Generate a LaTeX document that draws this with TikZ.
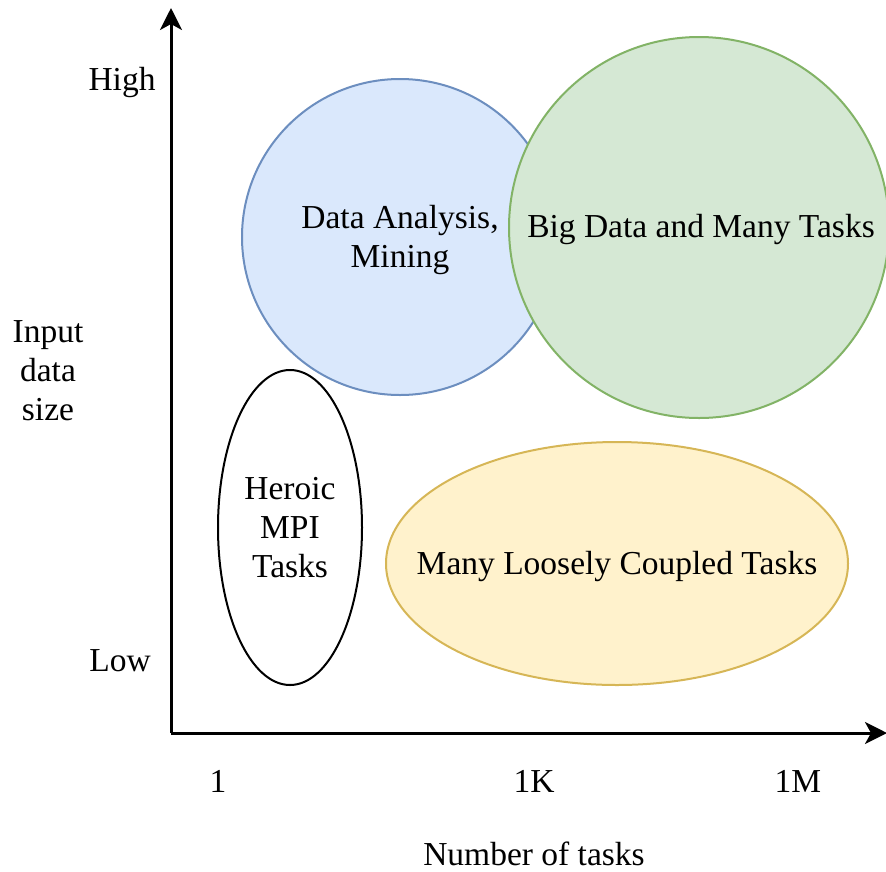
\documentclass[tikz,border=0pt]{standalone}
\usepackage{fontspec}
\setmainfont{Liberation Serif}
\usetikzlibrary{arrows.meta,shapes.geometric}
\definecolor{blueFill}{HTML}{DAE8FC}
\definecolor{blueLine}{HTML}{6C8EBF}
\definecolor{greenFill}{HTML}{D5E8D4}
\definecolor{greenLine}{HTML}{82B366}
\definecolor{yellowFill}{HTML}{FFF2CC}
\definecolor{yellowLine}{HTML}{D6B656}
\tikzset{
  lbl/.style={inner sep=0pt, align=center, font=\fontsize{33.5}{39}\selectfont},
  blob/.style={ellipse, draw, line width=2pt, inner sep=0pt, outer sep=0pt},
  axis/.style={line width=3pt, -{Stealth[length=22pt,width=22pt,inset=6pt]}}
}
\begin{document}
\begin{tikzpicture}[x=1pt,y=-1pt]
  \useasboundingbox (0,0) rectangle (886,871);
  % axes
  \coordinate (o) at (171,733);
  \coordinate (ytop) at (171,8);
  \coordinate (xend) at (887,733);
  \draw[axis] (o) -- (ytop);
  \draw[axis] (o) -- (xend);
  % regions (shapes first, captions on top)
  \node[blob, fill=blueFill, draw=blueLine, minimum width=316pt, minimum height=316pt]
    (da) at (400,237) {};
  \node[blob, fill=greenFill, draw=greenLine, minimum width=380pt, minimum height=381pt]
    (bd) at (699,227.5) {};
  \node[blob, fill=white, draw=black, minimum width=144pt, minimum height=315pt]
    (mpi) at (290,527.5) {};
  \node[blob, fill=yellowFill, draw=yellowLine, minimum width=462pt, minimum height=243pt]
    (mlc) at (617,563.5) {};
  \node[lbl] (daT) at ([yshift=-3pt]da.center) {Data Analysis,\\Mining};
  \node[lbl] (bdT) at ([xshift=2pt,yshift=-2pt]bd.center) {Big Data and Many Tasks};
  \node[lbl] (mpiT) at (mpi.center) {Heroic\\MPI\\Tasks};
  \node[lbl] (mlcT) at ([yshift=-3pt]mlc.center) {Many Loosely Coupled Tasks};
  % axis labels
  \node[lbl] (high) at (122,82) {High};
  \node[lbl] (low) at (120,661) {Low};
  \node[lbl] (ylab) at (48,371) {Input\\data\\size};
  \node[lbl] (t1) at (218,781) {1};
  \node[lbl] (t1k) at (534,781) {1K};
  \node[lbl] (t1m) at (798,781) {1M};
  \node[lbl, anchor=base] (xlab) at (534,865) {Number of tasks};
\end{tikzpicture}
\end{document}
